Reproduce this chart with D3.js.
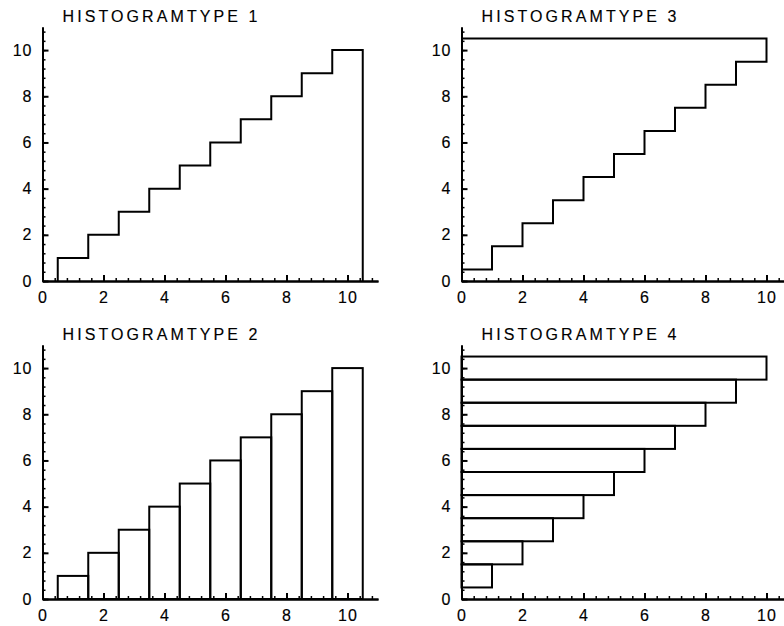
<!DOCTYPE html>
<html>
  <head>
    <meta charset="utf-8" />
    <script src="https://d3js.org/d3.v7.min.js"></script>
    <style>
      body { margin: 0; background: #fff; }
      text { font-family: "Liberation Sans", Arial, sans-serif; fill: #000; stroke: #000; stroke-width: 0.15px; }
      .outline { fill: none; stroke: #000; stroke-width: 2px; }
      .axis path, .axis line { stroke: #000; stroke-width: 2px; }
      .minor line { stroke-width: 1.5px; }
    </style>
  </head>
  <body>
    <svg id="chart" width="784" height="626"></svg>

    <script>
      var svg = d3.select("#chart");

      // the data: bin centres and counts (same for all four panels)
      var categories = [1, 2, 3, 4, 5, 6, 7, 8, 9, 10];
      var values = [1, 2, 3, 4, 5, 6, 7, 8, 9, 10];
      var binWidth = 1;

      var titles = ["HISTOGRAMTYPE 1", "HISTOGRAMTYPE 3", "HISTOGRAMTYPE 2", "HISTOGRAMTYPE 4"];
      var majorTicks = [0, 2, 4, 6, 8, 10];
      var minorTicks = d3.range(0, 11, 0.4);

      var plotW = 335.5, plotH = 254;
      var origins = [[42.5, 281], [461.5, 281], [42.5, 599], [461.5, 599]];

      var x = d3.scaleLinear().domain([0, 11]).range([0, plotW]);
      var y = d3.scaleLinear().domain([0, 11]).range([plotH, 0]);

      var line = d3.line()
        .x(function(d) { return x(d[0]); })
        .y(function(d) { return y(d[1]); });

      // step outline, vertical bins (type 1)
      var step = [[categories[0] - binWidth / 2, 0]];
      categories.forEach(function(c, i) {
        step.push([c - binWidth / 2, values[i]]);
        step.push([c + binWidth / 2, values[i]]);
      });
      step.push([categories[categories.length - 1] + binWidth / 2, 0]);

      // step outline, horizontal bins (type 3)
      var stepH = [[0, categories[0] - binWidth / 2]];
      categories.forEach(function(c, i) {
        stepH.push([values[i], c - binWidth / 2]);
        stepH.push([values[i], c + binWidth / 2]);
      });
      stepH.push([0, categories[categories.length - 1] + binWidth / 2]);

      function drawAxes(g) {
        // minor ticks
        g.append("g").attr("class", "axis minor")
          .attr("transform", "translate(0," + plotH + ")")
          .call(d3.axisBottom(x).tickValues(minorTicks).tickSize(-3).tickSizeOuter(0).tickFormat(""));
        g.append("g").attr("class", "axis minor")
          .call(d3.axisLeft(y).tickValues(minorTicks).tickSize(-3).tickSizeOuter(0).tickFormat(""));

        var xa = g.append("g").attr("class", "axis")
          .attr("transform", "translate(0," + plotH + ")")
          .call(d3.axisBottom(x).tickValues(majorTicks).tickSize(-6).tickSizeOuter(0).tickPadding(11));
        var ya = g.append("g").attr("class", "axis")
          .call(d3.axisLeft(y).tickValues(majorTicks).tickSize(-6).tickSizeOuter(0).tickPadding(10));

        [xa, ya].forEach(function(a) {
          a.attr("font-size", 16).attr("font-family", "Liberation Sans, Arial, sans-serif");
          a.selectAll("text").style("letter-spacing", "1px");
        });
      }

      origins.forEach(function(o, p) {
        var plot = svg.append("g").attr("transform", "translate(" + o[0] + "," + (o[1] - plotH) + ")");

        plot.append("text")
          .attr("x", 20).attr("y", -5.5)
          .style("font-size", "16px")
          .attr("textLength", 195)
          .attr("lengthAdjust", "spacing")
          .text(titles[p]);

        if (p === 0) {
          plot.append("path").attr("class", "outline").attr("d", line(step));
        } else if (p === 1) {
          plot.append("path").attr("class", "outline").attr("d", line(stepH));
        } else if (p === 2) {
          plot.selectAll(".bar").data(categories).enter().append("rect")
            .attr("class", "outline")
            .attr("x", function(d) { return x(d - binWidth / 2); })
            .attr("width", function(d) { return x(d + binWidth / 2) - x(d - binWidth / 2); })
            .attr("y", function(d, i) { return y(values[i]); })
            .attr("height", function(d, i) { return y(0) - y(values[i]); });
        } else {
          plot.selectAll(".bar").data(categories).enter().append("rect")
            .attr("class", "outline")
            .attr("x", x(0))
            .attr("width", function(d, i) { return x(values[i]) - x(0); })
            .attr("y", function(d) { return y(d + binWidth / 2); })
            .attr("height", function(d) { return y(d - binWidth / 2) - y(d + binWidth / 2); });
        }

        drawAxes(plot);
      });
    </script>
  </body>
</html>
